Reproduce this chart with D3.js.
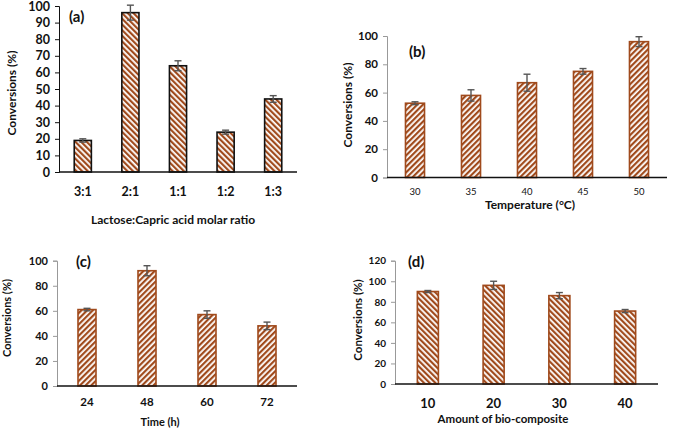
<!DOCTYPE html>
<html><head><meta charset="utf-8">
<script src="https://cdn.jsdelivr.net/npm/d3@7"></script>
<style>
body{margin:0;background:#fff;}
svg{display:block;font-family:Lato,"Open Sans",sans-serif;}
</style></head>
<body><svg id="c" width="680" height="429"></svg>
<script>
// Panel (a)
const catsA = ["3:1","2:1","1:1","1:2","1:3"];
const valsA = [19, 96, 64, 24, 44];
const errA  = [1, 4.5, 3, 1.2, 2];
const ticksA = [0,10,20,30,40,50,60,70,80,90,100];
// Panel (b)
const catsB = ["30","35","40","45","50"];
const valsB = [52.5, 58, 67, 75, 96];
const errB  = [1, 4, 6, 2, 3.5];
const ticksB = [0,20,40,60,80,100];
// Panel (c)
const catsC = ["24","48","60","72"];
const valsC = [61, 92, 57, 48];
const errC  = [1, 4, 3, 3];
const ticksC = [0,20,40,60,80,100];
// Panel (d)
const catsD = ["10","20","30","40"];
const valsD = [90, 96, 86, 71];
const errD  = [1, 4, 3, 1.5];
const ticksD = [0,20,40,60,80,100,120];

const svg = d3.select("#c");
const brown = "#a04a1c";
const defs = svg.append("defs");
function pattern(id, dir){
  const p = defs.append("pattern").attr("id",id).attr("patternUnits","userSpaceOnUse")
    .attr("width",4).attr("height",4).attr("patternTransform","rotate("+(dir>0?45:-45)+")");
  p.append("rect").attr("width",4).attr("height",4).attr("fill","#fff");
  p.append("rect").attr("width",2.2).attr("height",4).attr("fill",brown);
}
pattern("hatchBack",-1);
pattern("hatchFwd",1);

function panel(cfg){
  const g = svg.append("g");
  const x = d3.scaleBand().domain(cfg.cats).range([cfg.x0,cfg.x1]).paddingInner(cfg.pad).paddingOuter(cfg.pad/2);
  const y = d3.scaleLinear().domain([0,cfg.ymax]).range([cfg.y0,cfg.y1]);
  // y axis
  const ya = g.append("g").attr("transform","translate("+cfg.x0+",0)")
    .call(d3.axisLeft(y).tickValues(cfg.ticks).tickSize(4).tickPadding(5));
  ya.select(".domain").attr("stroke",cfg.yAxisColor);
  ya.selectAll(".tick line").attr("stroke",cfg.yAxisColor);
  ya.selectAll("text").attr("font-size",cfg.yFont).attr("font-weight","bold").attr("fill","#111").attr("font-family","Lato");
  // bars
  g.selectAll("rect.bar").data(cfg.vals).enter().append("rect")
    .attr("x",(d,i)=>x(cfg.cats[i])).attr("width",x.bandwidth())
    .attr("y",d=>y(d)).attr("height",d=>cfg.y0-y(d))
    .attr("fill","url(#"+cfg.pat+")").attr("stroke",cfg.barStroke).attr("stroke-width",1.6);
  // x axis line
  g.append("line").attr("x1",cfg.x0).attr("x2",cfg.x1).attr("y1",cfg.y0).attr("y2",cfg.y0)
    .attr("stroke","#111").attr("stroke-width",1.4);
  // error bars
  const eb = g.selectAll("g.err").data(cfg.vals).enter().append("g")
    .attr("stroke","#555").attr("stroke-width",1.4);
  eb.append("line").attr("x1",(d,i)=>x(cfg.cats[i])+x.bandwidth()/2).attr("x2",(d,i)=>x(cfg.cats[i])+x.bandwidth()/2)
    .attr("y1",(d,i)=>y(d-cfg.err[i])).attr("y2",(d,i)=>y(d+cfg.err[i]));
  eb.append("line").attr("x1",(d,i)=>x(cfg.cats[i])+x.bandwidth()/2-3.5).attr("x2",(d,i)=>x(cfg.cats[i])+x.bandwidth()/2+3.5)
    .attr("y1",(d,i)=>y(d+cfg.err[i])).attr("y2",(d,i)=>y(d+cfg.err[i]));
  eb.append("line").attr("x1",(d,i)=>x(cfg.cats[i])+x.bandwidth()/2-3.5).attr("x2",(d,i)=>x(cfg.cats[i])+x.bandwidth()/2+3.5)
    .attr("y1",(d,i)=>y(d-cfg.err[i])).attr("y2",(d,i)=>y(d-cfg.err[i]));
  // x tick labels
  g.selectAll("text.xt").data(cfg.cats).enter().append("text")
    .attr("x",d=>x(d)+x.bandwidth()/2).attr("y",cfg.xtY)
    .attr("text-anchor","middle").attr("font-size",cfg.xFont).attr("font-weight",cfg.xWeight).attr("fill","#111")
    .text(d=>d);
  // x title
  g.append("text").attr("x",cfg.xtitleX).attr("y",cfg.xtitleY).attr("text-anchor","middle")
    .attr("font-size",cfg.titleFont).attr("font-weight","bold").attr("fill","#111").text(cfg.xtitle);
  // y title
  g.append("text").attr("transform","translate("+cfg.ytitleX+","+cfg.ytitleY+") rotate(-90)")
    .attr("text-anchor","middle").attr("font-size",cfg.titleFont).attr("font-weight","bold").attr("fill","#111")
    .text("Conversions (%)");
  // label
  g.append("text").attr("x",cfg.labX).attr("y",cfg.labY).attr("font-size",cfg.labFont).attr("font-weight","bold")
    .attr("fill","#111").text(cfg.lab);
}

panel({cats:catsA, vals:valsA, err:errA, ticks:ticksA, ymax:100,
  x0:59, x1:297, y0:172, y1:6, pad:0.64, pat:"hatchBack", barStroke:"#111", yAxisColor:"#111",
  yFont:12.5, xFont:12.5, xWeight:"bold", xtY:196, xtitle:"Lactose:Capric acid molar ratio", xtitleX:173, xtitleY:224,
  ytitleX:16, ytitleY:93, titleFont:12, lab:"(a)", labX:69, labY:22, labFont:15});

panel({cats:catsB, vals:valsB, err:errB, ticks:ticksB, ymax:100,
  x0:387, x1:667, y0:177.5, y1:36, pad:0.66, pat:"hatchFwd", barStroke:brown, yAxisColor:"#999",
  yFont:11.5, xFont:9.5, xWeight:"normal", xtY:195, xtitle:"Temperature (°C)", xtitleX:530, xtitleY:209,
  ytitleX:352, ytitleY:105, titleFont:12, lab:"(b)", labX:409, labY:57, labFont:15});

panel({cats:catsC, vals:valsC, err:errC, ticks:ticksC, ymax:100,
  x0:57, x1:297, y0:386, y1:260.7, pad:0.7, pat:"hatchFwd", barStroke:brown, yAxisColor:"#999",
  yFont:11, xFont:11.5, xWeight:"bold", xtY:406, xtitle:"Time (h)", xtitleX:160, xtitleY:426,
  ytitleX:11, ytitleY:318, titleFont:11, lab:"(c)", labX:76, labY:267, labFont:15});

panel({cats:catsD, vals:valsD, err:errD, ticks:ticksD, ymax:120,
  x0:395, x1:658, y0:384, y1:260.7, pad:0.68, pat:"hatchBack", barStroke:brown, yAxisColor:"#999",
  yFont:10, xFont:13, xWeight:"bold", xtY:408, xtitle:"Amount of bio-composite", xtitleX:503, xtitleY:423,
  ytitleX:362, ytitleY:320, titleFont:11.5, lab:"(d)", labX:408, labY:267, labFont:15});
</script></body></html>
